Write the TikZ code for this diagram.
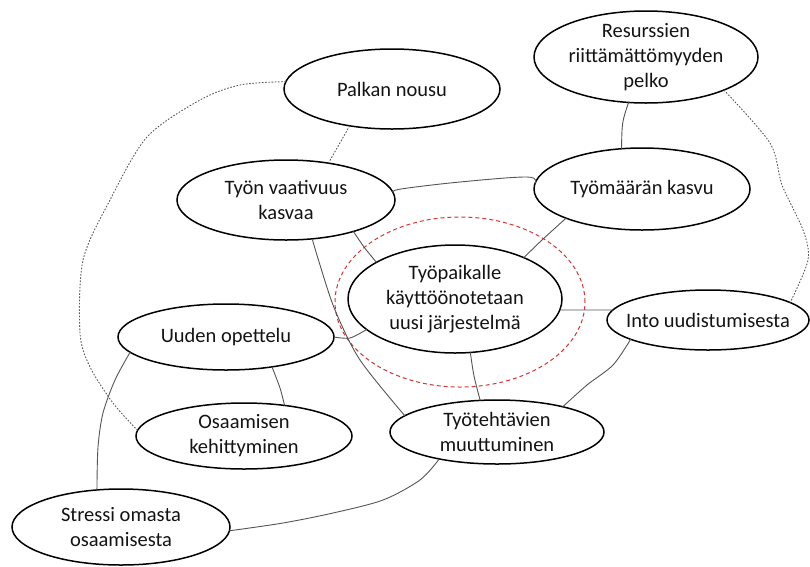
\documentclass[tikz,border=0pt]{standalone}
\usepackage{fontspec}
\setmainfont{Carlito}
\usetikzlibrary{shapes.geometric}
\definecolor{ringred}{RGB}{214,52,52}
\definecolor{inkgray}{RGB}{85,85,85}
\definecolor{dotgray}{RGB}{90,90,90}
\definecolor{textink}{RGB}{20,20,20}

\begin{document}
\begin{tikzpicture}[x=1pt,y=-1pt,
  bubble/.style={ellipse, draw=black, line width=1.5pt, inner sep=0pt, outer sep=0pt},
  bubtext/.style={align=center, text=textink, font=\fontsize{20.5}{25}\selectfont, inner sep=0pt},
  link/.style={draw=inkgray, line width=0.9pt},
  dotlink/.style={draw=dotgray, line width=0.9pt, dash pattern=on 1.6pt off 1.6pt},
  focusring/.style={ellipse, draw=ringred, line width=1pt, dash pattern=on 4pt off 3pt, inner sep=0pt}
]
\fill[white] (0,0) rectangle (810,566);
\useasboundingbox (0,0) rectangle (810,566);

% concept bubbles
\node[bubble, minimum width=216pt, minimum height=80pt,
  label={[bubtext]center:Palkan nousu}] (pay) at (392,89) {};
\node[bubble, minimum width=224pt, minimum height=92pt,
  label={[bubtext]center:{Resurssien\\riittämättömyyden\\pelko}}] (fear) at (646,57) {};
\node[bubble, minimum width=216pt, minimum height=82pt,
  label={[bubtext]center:Työmäärän kasvu}] (load) at (642,189) {};
\node[bubble, minimum width=218pt, minimum height=80pt,
  label={[bubtext]center:{Työn vaativuus\\kasvaa}}] (demand) at (286,200) {};
\node[bubble, minimum width=214pt, minimum height=108pt,
  label={[bubtext]center:{Työpaikalle\\käyttöönotetaan\\uusi järjestelmä}}] (sys) at (455,299) {};
\node[focusring, minimum width=250pt, minimum height=170pt] (ring) at (460,302) {};
\node[bubble, minimum width=202pt, minimum height=60pt,
  label={[bubtext]center:Into uudistumisesta}] (zeal) at (708,320) {};
\node[bubble, minimum width=216pt, minimum height=66pt,
  label={[bubtext]center:Uuden opettelu}] (learn) at (226,337) {};
\node[bubble, minimum width=216pt, minimum height=66pt,
  label={[bubtext]center:{Osaamisen\\kehittyminen}}] (skill) at (244,436) {};
\node[bubble, minimum width=214pt, minimum height=64pt,
  label={[bubtext]center:{Työtehtävien\\muuttuminen}}] (tasks) at (497,432) {};
\node[bubble, minimum width=218pt, minimum height=76pt,
  label={[bubtext]center:{Stressi omasta\\osaamisesta}}] (stress) at (121,527) {};

% solid links
\draw[link] (fear.249) .. controls (622,122) .. (load.117);
\draw[link] plot[smooth, tension=0.6] coordinates {(demand.4) (401,189) (460,182) (527,177) (load.177)};
\draw[link] plot[smooth] coordinates {(demand.335) (364,247) (sys.155)};
\draw[link] plot[smooth] coordinates {(load.201) (542,240) (sys.31)};
\draw[link] plot[smooth] coordinates {(demand.304) (320,265) (335,310) (360,360) (tasks.170)};
\draw[link] plot[smooth] coordinates {(learn.0) (350,338) (sys.199)};
\draw[link] plot[smooth] coordinates {(learn.327) (280,388) (skill.37)};
\draw[link] plot[smooth] coordinates {(learn.189) (115,380) (103,413) (98,447) (stress.123)};
\draw[link] plot[smooth] coordinates {(sys.286) (474,376) (tasks.118)};
\draw[link] plot[smooth] coordinates {(zeal.194) (613,365) (587,385) (tasks.21)};
\draw[link] (sys.354) -- (zeal.174);
\draw[link] plot[smooth] coordinates {(tasks.205) (420,480) (383,500) (333,513) (283,523) (stress.358)};

% dotted links
\draw[dotlink] plot[smooth] coordinates {(pay.176) (240,85) (200,100) (147,137) (110,200) (83,260) (80,333) (90,367) (113,403) (skill.177)};
\draw[dotlink] (pay.221) -- (demand.41);
\draw[dotlink] plot[smooth] coordinates {(fear.337) (770,143) (782,185) (803,230) (808,260) (zeal.12)};
\end{tikzpicture}
\end{document}
